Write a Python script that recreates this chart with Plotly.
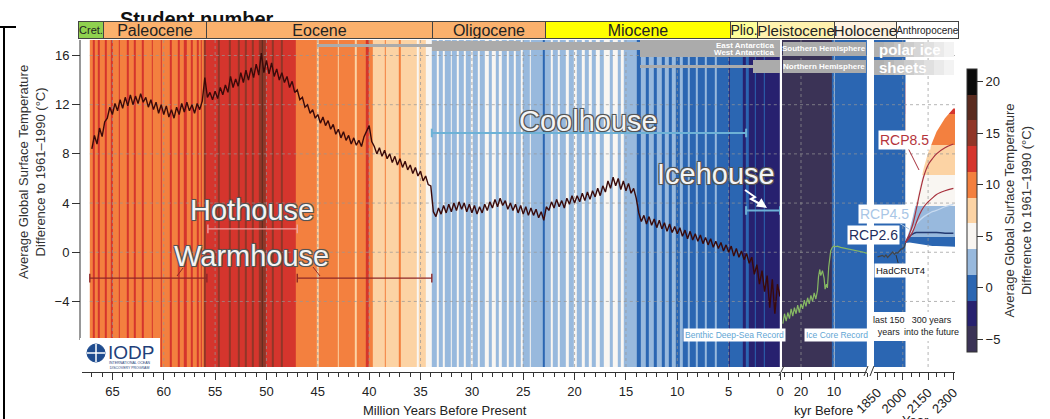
import numpy as np
import plotly.graph_objects as go

W, H = 1050, 419
FONT = "Liberation Sans, Arial, Helvetica, sans-serif"


def X(px):
    return px / W


def Y(py):
    return (H - py) / H


# ---------------- data ----------------
# discrete temperature bins (°C, bin width 2.5) and their colours
bin_centers = [-5, -2.5, 0, 2.5, 5, 7.5, 10, 12.5, 15, 17.5, 20]
bin_colors = ["#3b3356", "#27216f", "#2b66b2", "#98b9dd", "#f9f6f2", "#fcd3a4",
              "#f3803f", "#d5352d", "#903628", "#5a2b1f", "#0b0b0b"]
colorbar_ticks = [-5, 0, 5, 10, 15, 20]

# benthic deep-sea record, one value every 0.25 Myr from 67 Ma to 0 Ma
benthic_temp = [
    8.4, 9.5, 8.8, 10.1,     # 67
    9.4, 10.6, 10.9, 11.8,   # 66
    11.2, 12.1, 11.5, 12.4,  # 65
    11.7, 12.6, 11.9, 12.8,  # 64
    12.0, 12.7, 12.1, 12.9,  # 63
    12.2, 12.6, 11.8, 12.4,  # 62
    11.6, 12.2, 11.3, 12.0,  # 61
    11.2, 11.9, 11.0, 11.6,  # 60
    10.9, 11.8, 11.2, 12.1,  # 59
    11.4, 12.2, 11.5, 12.0,  # 58
    11.3, 12.1, 11.6, 12.3,  # 57
    14.2, 12.6, 13.0, 12.4,  # 56
    13.1, 12.5, 13.4, 12.8,  # 55
    13.6, 13.0, 14.3, 13.4,  # 54
    14.1, 13.5, 14.6, 13.8,  # 53
    14.8, 14.0, 15.0, 14.2,  # 52
    15.3, 14.4, 16.2, 14.6,  # 51
    15.6, 14.5, 15.4, 14.3,  # 50
    14.9, 14.0, 14.6, 13.8,  # 49
    14.3, 13.4, 13.9, 13.0,  # 48
    13.2, 12.4, 12.6, 11.8,  # 47
    12.0, 11.3, 11.6, 10.9,  # 46
    11.2, 10.5, 11.0, 10.3,  # 45
    10.7, 10.0, 10.4, 9.6,   # 44
    10.0, 9.3, 9.8, 9.1,     # 43
    9.5, 8.8, 9.3, 8.7,      # 42
    9.1, 8.6, 9.4, 9.9,      # 41
    10.3, 9.0, 8.6, 8.0,     # 40
    8.5, 7.8, 8.3, 7.6,      # 39
    8.0, 7.3, 7.8, 7.1,      # 38
    7.6, 6.9, 7.4, 6.7,      # 37
    7.1, 6.4, 6.9, 6.2,      # 36
    6.6, 5.8, 6.2, 5.5,      # 35
    5.4, 3.3, 2.9, 3.6,      # 34
    3.1, 3.8, 3.2, 3.9,      # 33
    3.3, 4.0, 3.4, 4.1,      # 32
    3.5, 4.0, 3.3, 3.9,      # 31
    3.2, 3.8, 3.1, 3.7,      # 30
    3.2, 3.9, 3.4, 4.1,      # 29
    3.6, 4.3, 3.7, 4.4,      # 28
    3.8, 4.2, 3.5, 4.0,      # 27
    3.4, 3.9, 3.2, 3.8,      # 26
    3.1, 3.7, 3.0, 3.6,      # 25
    3.0, 3.5, 2.8, 3.3,      # 24
    2.6, 3.7, 3.4, 4.1,      # 23
    3.6, 4.3, 3.7, 4.2,      # 22
    3.6, 4.4, 3.9, 4.6,      # 21
    4.0, 4.6, 4.1, 4.8,      # 20
    4.2, 4.9, 4.3, 5.0,      # 19
    4.5, 5.2, 4.6, 5.4,      # 18
    4.9, 5.8, 5.2, 6.1,      # 17
    5.4, 6.0, 5.1, 5.8,      # 16
    5.0, 5.6, 4.8, 5.2,      # 15
    4.4, 3.2, 2.5, 3.0,      # 14
    2.3, 2.9, 2.2, 2.7,      # 13
    2.0, 2.6, 1.9, 2.4,      # 12
    1.7, 2.3, 1.6, 2.1,      # 11
    1.5, 2.0, 1.3, 1.8,      # 10
    1.1, 1.7, 1.0, 1.5,      # 9
    0.9, 1.4, 0.7, 1.2,      # 8
    0.6, 1.1, 0.4, 0.9,      # 7
    0.3, 0.8, 0.1, 0.6,      # 6
    0.0, 0.5, -0.3, 0.3,     # 5
    -0.4, 0.1, -0.6, -0.1,   # 4
    -0.9, -0.4, -1.8, -1.0,  # 3
    -2.6, -1.5, -3.2, -1.9,  # 2
    -4.5, -2.2, -5.0, -2.6,  # 1
    -3.6,                    # 0
]
benthic_age = np.linspace(67.0, 0.0, len(benthic_temp))

# climate stripes: (start age in Ma, temperature bin); each runs to the next start, the last to 0 Ma
main_stripes = [
    # Paleocene: orange with thin red lines
    (67.2, 10), (66.9, 12.5), (66.75, 10), (66.4, 12.5), (66.2, 10), (65.7, 12.5),
    (65.55, 10), (65.2, 12.5), (65.0, 10), (64.4, 12.5), (64.25, 10), (63.6, 12.5),
    (63.45, 10), (62.9, 12.5), (62.75, 10), (62.1, 12.5), (61.95, 10), (61.2, 12.5),
    (61.05, 10), (60.3, 12.5), (60.15, 10), (59.4, 12.5), (59.25, 10), (58.6, 12.5),
    (58.4, 10), (58.0, 12.5), (57.8, 10), (57.4, 12.5), (57.15, 10), (56.8, 12.5),
    (56.6, 10), (56.4, 12.5), (56.25, 10),
    # Early Eocene: red with brown lines
    (56.1, 15), (55.9, 12.5), (54.7, 15), (54.5, 12.5), (53.7, 15), (53.5, 12.5),
    (52.8, 15), (52.6, 12.5), (52.1, 15), (51.9, 12.5), (51.4, 15), (51.2, 12.5),
    (50.7, 15), (50.5, 17.5), (50.35, 15), (50.1, 12.5), (49.5, 15), (49.3, 12.5),
    (48.6, 15), (48.45, 12.5),
    # Middle / late Eocene
    (47.1, 10), (45.1, 7.5), (44.95, 10), (43.1, 7.5), (42.95, 10), (41.4, 7.5),
    (41.25, 10), (40.35, 12.5), (40.05, 10), (39.6, 7.5), (38.5, 10), (38.35, 7.5),
    (37.1, 10), (36.95, 7.5), (35.4, 5), (35.2, 7.5), (34.5, 5),
    # Oligocene - early Miocene: light blue with thin white lines
    (33.9, 2.5), (33.4, 5), (33.25, 2.5), (32.8, 5), (32.6, 2.5), (32.1, 5),
    (31.95, 2.5), (31.5, 5), (31.3, 2.5), (30.8, 5), (30.6, 2.5), (30.1, 5),
    (29.9, 2.5), (29.4, 5), (29.2, 2.5), (28.7, 5), (28.4, 2.5), (28.1, 5),
    (27.7, 2.5), (27.4, 5), (27.1, 2.5), (26.6, 5), (26.4, 2.5), (25.9, 5),
    (25.7, 2.5), (25.2, 5), (25.0, 2.5), (24.4, 5), (24.25, 2.5), (23.1, 0),
    (22.9, 2.5), (22.3, 5), (22.1, 2.5), (21.6, 5), (21.4, 2.5), (20.9, 5),
    (20.6, 2.5), (20.1, 5), (19.8, 2.5), (19.3, 5), (19.0, 2.5), (18.6, 5),
    (18.3, 2.5), (17.9, 5), (17.5, 2.5), (17.2, 5), (16.6, 2.5), (16.3, 5),
    (15.8, 2.5), (15.5, 5), (15.2, 2.5),
    # Middle Miocene - Pleistocene: blues
    (13.9, 0), (13.6, 2.5), (13.1, 0), (12.8, 2.5), (12.3, 0), (12.0, 2.5),
    (11.5, 0), (11.2, 2.5), (10.8, 0), (10.5, 2.5), (10.1, 0), (9.8, 2.5),
    (9.5, 0), (9.0, 2.5), (8.8, 0), (8.2, 2.5), (8.0, 0), (7.3, 2.5),
    (7.15, 0), (6.3, 2.5), (6.15, 0), (5.0, -2.5), (4.85, 0), (3.6, -2.5),
    (3.3, 0), (3.0, -2.5), (2.5, 0), (2.35, -2.5), (1.6, 0), (1.5, -2.5),
]
kyr_stripes = [(25.8, -5), (10.6, 0), (10.1, 2.5), (9.8, 0)]
year_stripes = [(1829.25, 0)]
year_stripes_end = 2016

# ice core record (kyr before present)
icecore_kyr = [25.5, 25, 24.5, 24, 23.5, 23, 22.5, 22, 21.5, 21, 20.5, 20, 19.5, 19, 18.5,
               18, 17.5, 17, 16.5, 16, 15.5, 15, 14.7, 14.3, 14, 13.5, 13, 12.7, 12.3,
               12, 11.6, 11.3, 11, 10.5, 10, 9.5, 9, 8, 7, 6, 5, 4, 3, 2, 1, 0]
icecore_temp = [-5.8, -5.0, -5.6, -4.9, -5.4, -4.6, -5.2, -4.5, -5.0, -4.3, -4.9, -4.2, -4.6,
                -3.9, -4.4, -3.7, -4.2, -3.5, -4.0, -3.3, -3.8, -3.1, -2.0, -1.4, -1.9, -1.5,
                -2.1, -3.0, -2.6, -2.9, -1.2, -0.4, 0.1, 0.4, 0.5, 0.45, 0.5, 0.4, 0.35, 0.3,
                0.25, 0.15, 0.1, 0.05, 0.0, -0.1]

# HadCRUT4 observations
hadcrut_year = [1850, 1860, 1870, 1880, 1890, 1900, 1910, 1920, 1930, 1940, 1950,
                1960, 1970, 1980, 1990, 2000, 2010, 2016]
hadcrut_temp = [-0.37, -0.35, -0.27, -0.25, -0.38, -0.22, -0.42, -0.28, -0.15, 0.02,
                -0.17, -0.03, -0.06, 0.09, 0.26, 0.29, 0.46, 0.77]

# RCP projections
rcp_year = [2016, 2040, 2060, 2080, 2100, 2125, 2150, 2175, 2200, 2250, 2300]
fan_upper = [0.8, 1.8, 2.9, 4.2, 5.5, 6.9, 8.1, 9.0, 9.8, 10.9, 11.7]
fan_lower = [0.75, 0.8, 0.75, 0.7, 0.65, 0.6, 0.55, 0.5, 0.5, 0.45, 0.45]
rcp85_high = [0.8, 1.5, 2.3, 3.5, 4.8, 6.2, 7.1, 7.6, 8.0, 8.5, 8.8]
rcp85_low = [0.8, 1.2, 1.7, 2.4, 3.1, 3.7, 4.1, 4.4, 4.7, 5.0, 5.2]
rcp45 = [0.8, 1.4, 1.9, 2.3, 2.6, 2.9, 3.1, 3.3, 3.4, 3.7, 3.9]
rcp26 = [0.8, 1.3, 1.5, 1.6, 1.6, 1.6, 1.6, 1.6, 1.6, 1.55, 1.55]
fan_band_edges = [-1.25, 1.25, 3.75, 6.25, 8.75, 11.25, 13.75]
fan_band_bins = [0, 2.5, 5, 7.5, 10, 12.5]

# ticks
ma_ticks = [65, 60, 55, 50, 45, 40, 35, 30, 25, 20, 15, 10, 5, 0]
kyr_ticks = [20, 10]
year_ticks = [1850, 2000, 2150, 2300]
temp_ticks = [-4, 0, 4, 8, 12, 16]

# geological epochs for the header: (label, left px, right px, fill, font size)
epochs = [("Cret.", 78, 103, "#8fd14f", 11), ("Paleocene", 103, 206, "#fbb16d", 16),
          ("Eocene", 206, 432, "#fbb16d", 16), ("Oligocene", 432, 545, "#fbb16d", 16),
          ("Miocene", 545, 730, "#ffff00", 16), ("Plio.", 730, 757, "#ffff99", 14),
          ("Pleistocene", 757, 834, "#fff2ae", 15), ("Holocene", 834, 896, "#fef2e0", 15),
          ("Anthropocene", 896, 958, "#ffffff", 10)]

# ---------------- scales ----------------
MA_RANGE = [67.96, 0]
KYR_RANGE = [25.76, 0]
YR_RANGE = [1829.25, 2309.5]
T_RANGE = [-9.33, 17.26]
zmin = bin_centers[0] - 1.25
zmax = bin_centers[-1] + 1.25
n_bins = len(bin_colors)
colorscale = []
for i, c in enumerate(bin_colors):
    colorscale.append([i / n_bins, c])
    colorscale.append([(i + 1) / n_bins, c])

GRID = "rgba(150,150,150,0.7)"
AXC = "#333333"


def stripe_heatmap(stripes, end, xaxis):
    edges = [s for s, _ in stripes] + [end]
    vals = [v for _, v in stripes]
    if edges[0] > edges[-1]:
        edges = edges[::-1]
        vals = vals[::-1]
    return go.Heatmap(x=edges, y=T_RANGE, z=[vals], coloraxis="coloraxis",
                      xaxis=xaxis, yaxis="y", hoverinfo="skip", zsmooth=False)


def grid_trace(xaxis, xr, verticals):
    gx, gy = [], []
    for t in temp_ticks:
        gx += [xr[0], xr[1], None]
        gy += [t, t, None]
    for v in verticals:
        gx += [v, v, None]
        gy += [T_RANGE[0], T_RANGE[1], None]
    return go.Scatter(x=gx, y=gy, mode="lines", xaxis=xaxis, yaxis="y",
                      line=dict(color=GRID, width=1, dash="dot"), hoverinfo="skip")


fig = go.Figure()

# stripes
fig.add_trace(stripe_heatmap(main_stripes, 0.0, "x"))
fig.add_trace(stripe_heatmap(kyr_stripes, 0.0, "x2"))
fig.add_trace(stripe_heatmap(year_stripes, year_stripes_end, "x3"))

# projection fan coloured by temperature bands, then masked outside envelope
fig.add_trace(go.Heatmap(x=[rcp_year[0], YR_RANGE[1] + 10], y=fan_band_edges,
                         z=[[b] for b in fan_band_bins], coloraxis="coloraxis",
                         xaxis="x3", yaxis="y", hoverinfo="skip", zsmooth=False))
top, bot = T_RANGE[1] + 1, T_RANGE[0] - 1
xr_end = YR_RANGE[1] + 20
fig.add_trace(go.Scatter(x=rcp_year + [xr_end, xr_end, rcp_year[0]],
                         y=fan_upper + [fan_upper[-1], top, top],
                         fill="toself", fillcolor="white", mode="lines", line=dict(width=0),
                         xaxis="x3", yaxis="y", hoverinfo="skip"))
fig.add_trace(go.Scatter(x=rcp_year + [xr_end, xr_end, rcp_year[0]],
                         y=fan_lower + [fan_lower[-1], bot, bot],
                         fill="toself", fillcolor="white", mode="lines", line=dict(width=0),
                         xaxis="x3", yaxis="y", hoverinfo="skip"))

# grids
fig.add_trace(grid_trace("x", [67.2, 0], [t for t in ma_ticks if t != 0]))
fig.add_trace(grid_trace("x2", [KYR_RANGE[0], 0], kyr_ticks))
fig.add_trace(grid_trace("x3", YR_RANGE, [2000, 2150]))

# curves
fig.add_trace(go.Scatter(x=benthic_age, y=benthic_temp, mode="lines", xaxis="x", yaxis="y",
                         line=dict(color="#3a0a0a", width=1.4), hoverinfo="skip"))
fig.add_trace(go.Scatter(x=icecore_kyr, y=icecore_temp, mode="lines", xaxis="x2", yaxis="y",
                         line=dict(color="#86b863", width=1.2), hoverinfo="skip"))
fig.add_trace(go.Scatter(x=hadcrut_year, y=hadcrut_temp, mode="lines", xaxis="x3", yaxis="y",
                         line=dict(color="#444444", width=1.2), hoverinfo="skip"))
for series, col, wid in [(rcp45, "#c7daf0", 1.3), (rcp26, "#233a72", 1.5),
                         (rcp85_low, "#a8323e", 1.2), (rcp85_high, "#a8323e", 1.2)]:
    fig.add_trace(go.Scatter(x=rcp_year, y=series, mode="lines", xaxis="x3", yaxis="y",
                             line=dict(color=col, width=wid, shape="spline"), hoverinfo="skip"))

# ---------------- shapes ----------------
shapes = []


def pline(x0, y0, x1, y1, color="black", width=1):
    shapes.append(dict(type="line", xref="paper", yref="paper", x0=X(x0), y0=Y(y0),
                       x1=X(x1), y1=Y(y1), line=dict(color=color, width=width)))


def prect(x0, y0, x1, y1, fill, line_color=None, lw=0, opacity=1.0):
    shapes.append(dict(type="rect", xref="paper", yref="paper", x0=X(x0), y0=Y(y0),
                       x1=X(x1), y1=Y(y1), fillcolor=fill, opacity=opacity,
                       line=dict(color=line_color or fill, width=lw)))


def bracket(a0, a1, t, color, width=1.6, cap=0.35):
    for (xa, ya, xb, yb) in [(a0, t, a1, t), (a0, t - cap, a0, t + cap), (a1, t - cap, a1, t + cap)]:
        shapes.append(dict(type="line", xref="x", yref="y", x0=xa, y0=ya, x1=xb, y1=yb,
                           line=dict(color=color, width=width)))


# frame corner and y axis line
pline(4, 27, 4, 419, "black", 2)
pline(0, 27, 16, 27, "black", 2)
pline(80, 40, 80, 340, AXC, 1)

# climate-state brackets
bracket(33.9, 3.3, 9.7, "#6db2d6", 2)
bracket(3.3, 0.0, 3.4, "#6db2d6", 2)
bracket(55.7, 47.0, 1.9, "#f0a0a0", 1.4)
bracket(67.2, 55.8, -2.1, "#8e2727", 1.4)
bracket(47.0, 33.9, -2.1, "#8e2727", 1.4)
pline(183, 268, 177, 276, "#8e2727", 1)
pline(313, 267, 320, 276, "#8e2727", 1)

# icehouse zigzag arrow
zz = [(745, 190), (755, 197), (751, 199), (762, 205)]
path = "M " + " L ".join(f"{X(a):.5f},{Y(b):.5f}" for a, b in zz)
shapes.append(dict(type="path", xref="paper", yref="paper", path=path,
                   line=dict(color="white", width=2)))

# ice sheet bars
GRAY = "#ababab"
prect(317, 44, 432, 47, GRAY)
prect(432, 41, 520, 51, GRAY)
prect(520, 42, 640, 50, GRAY)
prect(640, 40, 780, 57, GRAY)
prect(640, 65, 753, 68, GRAY)
prect(753, 60, 780, 73, GRAY)
prect(783, 42, 866, 56, GRAY)
prect(783, 60, 866, 73, GRAY)
grad = ["#b0b0b0", "#b8b8b8", "#c2c2c2", "#cccccc", "#d6d6d6", "#e0e0e0", "#eaeaea", "#f3f3f3"]
for i, g in enumerate(grad):
    x0 = 874 + i * 10
    prect(x0, 42, x0 + 10, 57, g)
    prect(x0, 60, x0 + 10, 75, g)

# IODP logo area
prect(80, 338, 160, 369, "white")
shapes.append(dict(type="circle", xref="paper", yref="paper", x0=X(87), y0=Y(362), x1=X(105),
                   y1=Y(344), fillcolor="#1f4c8f", line=dict(color="#1f4c8f", width=1)))
pline(87, 353, 105, 353, "white", 1.5)
pline(96, 344, 96, 362, "white", 1.5)

# white box under the year panel captions
prect(873, 312, 957, 341, "white")

# axis break marks
pline(779, 376, 784, 366, AXC, 1)
pline(864, 376, 868, 366, AXC, 1)
pline(870, 376, 874, 366, AXC, 1)

# ---------------- annotations ----------------
annotations = []


def add_ann(text, x, y, size=13, color="#222222", xanchor="center", yanchor="middle",
            font_extra=None, **kw):
    font = dict(family=FONT, size=size, color=color)
    if font_extra:
        font.update(font_extra)
    d = dict(text=text, x=X(x), y=Y(y), xref="paper", yref="paper", showarrow=False,
             xanchor=xanchor, yanchor=yanchor, font=font)
    d.update(kw)
    annotations.append(d)


add_ann("<b>Student number</b>", 197, 6, size=20, color="#111111", yanchor="top")
for name, x0, x1, fill, fs in epochs:
    add_ann(name, (x0 + x1) / 2, 30, size=fs, color="#222222", width=x1 - x0 - 1, height=16,
            bgcolor=fill, bordercolor="#444444", borderwidth=1, borderpad=0)

outline = "-1px -1px 0 #555, 1px -1px 0 #555, -1px 1px 0 #555, 1px 1px 0 #555, 0 0 2px #333"
for label, x, y in [("Coolhouse", 588, 121), ("Hothouse", 252, 210),
                    ("Warmhouse", 251, 256), ("Icehouse", 716, 174)]:
    add_ann(label, x, y, size=29, color="#f4f4f4", font_extra=dict(shadow=outline))

# ice sheet texts
add_ann("<b>East Antarctica</b>", 777, 45.5, size=8, color="white", xanchor="right")
add_ann("<b>West Antarctica</b>", 777, 53, size=8, color="white", xanchor="right")
add_ann("<b>Southern Hemisphere</b>", 824, 49, size=8, color="white")
add_ann("<b>Northern Hemisphere</b>", 824, 66.5, size=8, color="white")
add_ann("<b>polar ice</b>", 877, 49.5, size=15, color="white", xanchor="left")
add_ann("<b>sheets</b>", 877, 67.5, size=15, color="white", xanchor="left")

# record labels
add_ann("Benthic Deep-Sea Record", 734, 335, size=8.5, color="#5fa6d4", bgcolor="white", borderpad=1)
add_ann("Ice Core Record", 837, 335, size=8.5, color="#5fa6d4", bgcolor="white", borderpad=1)
add_ann("last 150<br>years", 889, 326, size=9, color="#222222")
add_ann("300 years<br>into the future", 931, 326, size=9, color="#222222")


# RCP labels with leader lines
def leader(text, tx, ty, hx, hy, size, color, lcolor):
    annotations.append(dict(text=text, x=X(hx), y=Y(hy), xref="paper", yref="paper",
                            showarrow=True, arrowhead=0, arrowwidth=1, arrowcolor=lcolor,
                            ax=tx - hx, ay=ty - hy, bgcolor="white", borderpad=1,
                            font=dict(family=FONT, size=size, color=color)))


leader("RCP8.5", 904, 140, 919, 170, 14, "#b5343c", "#a8323e")
leader("RCP4.5", 884, 214, 909, 229, 14, "#a9c6e6", "#a9c6e6")
add_ann("RCP2.6", 873, 235, size=14, color="#1e2d5c", bgcolor="white", borderpad=1)
leader("HadCRUT4", 900, 270, 896, 255, 9.5, "#111111", "#333333")

# icehouse arrow head
annotations.append(dict(text="", x=X(767), y=Y(208), xref="paper", yref="paper", showarrow=True,
                        arrowhead=2, arrowsize=1, arrowwidth=2, arrowcolor="white", ax=-6, ay=-4))

# IODP text
add_ann("IODP", 106, 352, size=19, color="#1f3f7a", xanchor="left")
add_ann("INTERNATIONAL OCEAN<br>DISCOVERY PROGRAM", 107, 365, size=3.5, color="#1f3f7a",
        xanchor="left")

# axis titles
add_ann("Average Global Surface Temperature<br>Difference to 1961–1990 (°C)", 32, 172,
        size=13, color="#333333", textangle=-90)
add_ann("Million Years Before Present", 445, 410, size=13, color="#222222")
add_ann("kyr Before", 823, 410, size=13, color="#222222")
add_ann("Year", 915, 420, size=13, color="#222222")

# ---------------- layout ----------------
axis_common = dict(showgrid=False, zeroline=False, showline=True, linecolor=AXC, linewidth=1,
                   ticks="outside", ticklen=7, tickcolor=AXC, tickwidth=1,
                   tickfont=dict(family=FONT, size=13, color="#222222"),
                   anchor="free", position=Y(372), fixedrange=True, automargin=False)

fig.update_layout(
    width=W, height=H, autosize=False,
    margin=dict(l=0, r=0, t=0, b=0, pad=0, autoexpand=False),
    paper_bgcolor="white", plot_bgcolor="white",
    showlegend=False, hovermode=False,
    xaxis=dict(domain=[X(82), X(780)], range=MA_RANGE, tickvals=ma_ticks,
               minor=dict(dtick=1, tick0=0, ticks="outside", ticklen=4, tickcolor=AXC),
               **axis_common),
    xaxis2=dict(domain=[X(782), X(867)], range=KYR_RANGE, tickvals=kyr_ticks,
                minor=dict(dtick=2.5, tick0=0, ticks="outside", ticklen=4, tickcolor=AXC),
                **axis_common),
    xaxis3=dict(domain=[X(874), X(955)], range=YR_RANGE, tickvals=year_ticks, tickangle=-45,
                minor=dict(dtick=50, tick0=1850, ticks="outside", ticklen=4, tickcolor=AXC),
                **axis_common),
    yaxis=dict(domain=[Y(367), Y(40)], range=T_RANGE, tickvals=temp_ticks, anchor="free",
               position=X(80), showgrid=False, zeroline=False, showline=False,
               ticks="outside", ticklen=8, tickcolor=AXC, automargin=False,
               tickfont=dict(family=FONT, size=13, color="#222222"), fixedrange=True),
    coloraxis=dict(
        colorscale=colorscale, cmin=zmin, cmax=zmax,
        colorbar=dict(x=X(967), xanchor="left", xpad=0, y=Y(210.5), yanchor="middle", ypad=0,
                      len=283 / H, lenmode="fraction", thickness=10, thicknessmode="pixels",
                      outlinewidth=1, outlinecolor=AXC, ticks="outside", ticklen=6,
                      tickcolor=AXC, tickvals=colorbar_ticks,
                      tickfont=dict(family=FONT, size=13, color="#222222"),
                      title=dict(text="Average Global Surface Temperature<br>Difference to 1961–1990 (°C)",
                                 side="right", font=dict(family=FONT, size=13, color="#333333"))),
    ),
    shapes=shapes,
    annotations=annotations,
)

fig.write_html("out.html", config={"displayModeBar": False},
               post_script="document.body.style.margin='0px';document.body.style.overflow='hidden';")
